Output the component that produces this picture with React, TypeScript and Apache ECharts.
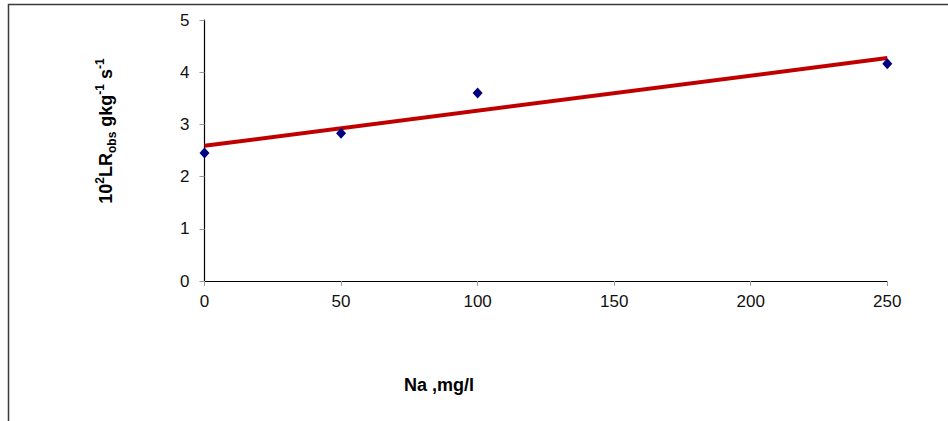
import React, { useEffect, useRef } from "react";
import * as echarts from "echarts";

const naValues = [0, 50, 100, 250];
const rateValues = [2.45, 2.83, 3.6, 4.16];
const trendX = [0, 250];
const trendY = [2.59, 4.27];
const xTicks = [0, 50, 100, 150, 200, 250];
const yTicks = [0, 1, 2, 3, 4, 5];

const FONT = "'Liberation Sans', Arial, Helvetica, sans-serif";

export default function App() {
  const ref = useRef<HTMLDivElement>(null);
  useEffect(() => {
    document.body.style.margin = "0";
    const chart = echarts.init(ref.current!, null, { renderer: "svg" });
    chart.setOption({
      animation: false,
      backgroundColor: "#ffffff",
      grid: { left: 204.5, right: 60.7, top: 20, bottom: 140, containLabel: false },
      xAxis: {
        type: "value",
        min: xTicks[0],
        max: xTicks[xTicks.length - 1],
        interval: 50,
        axisLine: { show: true, lineStyle: { color: "#000", width: 1.2 } },
        axisTick: { show: true, length: 5, lineStyle: { color: "#999" } },
        axisLabel: { color: "#111", fontSize: 17, fontFamily: FONT, margin: 12 },
        splitLine: { show: false },
      },
      yAxis: {
        type: "value",
        min: yTicks[0],
        max: yTicks[yTicks.length - 1],
        interval: 1,
        axisLine: { show: true, lineStyle: { color: "#000", width: 1.2 } },
        axisTick: { show: true, length: 5, lineStyle: { color: "#999" } },
        axisLabel: { color: "#111", fontSize: 17, fontFamily: FONT, margin: 15 },
        splitLine: { show: false },
      },
      graphic: [
        {
          type: "rect",
          shape: { x: 8.5, y: 4.5, width: 1200, height: 800 },
          style: { fill: "none", stroke: "#3a3a3a", lineWidth: 1.5 },
          silent: true,
          z: 100,
        },
        {
          type: "text",
          x: 439,
          y: 385,
          style: {
            text: "Na ,mg/l",
            font: `bold 18px ${FONT}`,
            fill: "#000",
            align: "center",
            verticalAlign: "middle",
          },
        },
        {
          type: "text",
          x: 106,
          y: 131,
          rotation: Math.PI / 2,
          style: {
            text: "{m|10}{sup|2}{m|LR}{sub|obs}{m| gkg}{sup|-1}{m| s}{sup|-1}",
            align: "center",
            verticalAlign: "middle",
            fill: "#000",
            rich: {
              m: { fontSize: 18, fontWeight: "bold", fontFamily: FONT, fill: "#000", verticalAlign: "middle", lineHeight: 24 },
              sup: { fontSize: 12, fontWeight: "bold", fontFamily: FONT, fill: "#000", verticalAlign: "top", lineHeight: 24 },
              sub: { fontSize: 12, fontWeight: "bold", fontFamily: FONT, fill: "#000", verticalAlign: "bottom", lineHeight: 24 },
            },
          },
        },
      ],
      series: [
        {
          type: "line",
          data: trendX.map((x, i) => [x, trendY[i]]),
          symbol: "none",
          lineStyle: { color: "#c00000", width: 4 },
          z: 2,
        },
        {
          type: "scatter",
          data: naValues.map((x, i) => [x, rateValues[i]]),
          symbol: "diamond",
          symbolSize: [10, 11],
          itemStyle: { color: "#000080", opacity: 1 },
          z: 3,
        },
      ],
    });
    return () => chart.dispose();
  }, []);
  return <div ref={ref} style={{ width: 948, height: 421 }} />;
}
